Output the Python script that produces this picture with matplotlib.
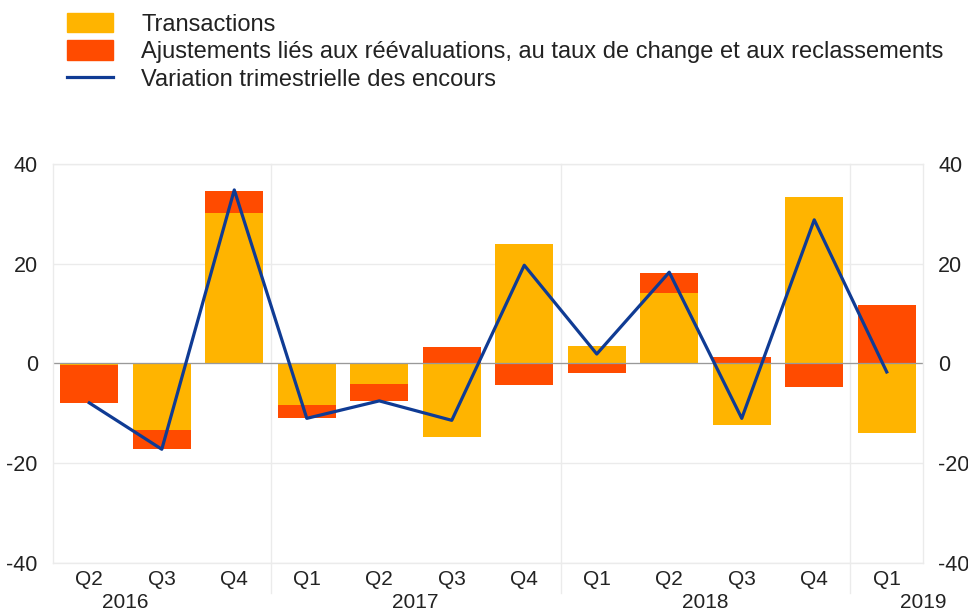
import matplotlib.pyplot as plt
from matplotlib.patches import Patch
from matplotlib.lines import Line2D

plt.rcParams['font.family'] = ['Liberation Sans', 'DejaVu Sans']
plt.rcParams['axes.unicode_minus'] = False
plt.rcParams['text.color'] = '#222222'
plt.rcParams['xtick.color'] = '#222222'
plt.rcParams['ytick.color'] = '#222222'

quarters = ['Q2', 'Q3', 'Q4', 'Q1', 'Q2', 'Q3', 'Q4', 'Q1', 'Q2', 'Q3', 'Q4', 'Q1']
years = ['2016', '2017', '2018', '2019']
year_pos = [0.5, 4.5, 8.5, 11.5]

transactions = [-0.3, -13.4, 30.2, -8.4, -4.2, -14.7, 24.0, 3.5, 14.2, -12.4, 33.3, -13.9]
adjustments = [-7.7, -3.8, 4.3, -2.6, -3.4, 3.3, -4.4, -1.9, 4.0, 1.3, -4.7, 11.8]
variation = [-7.9, -17.2, 34.8, -11.0, -7.5, -11.4, 19.7, 1.9, 18.3, -11.0, 28.8, -1.7]

yellow = '#ffb400'
red = '#ff4b00'
blue = '#0f3b94'

fig = plt.figure(figsize=(9.68, 6.11), dpi=100)
ax = fig.add_axes([0.0548, 0.0786, 0.8987, 0.653])

x = list(range(len(quarters)))
# adjustments stack on top of transactions when same sign, else start from zero
adj_bottom = [t if t * a > 0 else 0 for t, a in zip(transactions, adjustments)]

ax.bar(x, transactions, width=0.8, color=yellow, zorder=2)
ax.bar(x, adjustments, width=0.8, bottom=adj_bottom, color=red, zorder=2)
ax.plot(x, variation, color=blue, lw=2.3, zorder=3)

ax.axhline(0, color='#999999', lw=0.9, zorder=2.5)

ax.set_xlim(-0.5, 11.5)
ax.set_ylim(-40, 40)
ax.set_yticks([-40, -20, 0, 20, 40])
ax.yaxis.grid(True, color='#ebebeb', lw=1)
ax.set_axisbelow(True)

for s in ax.spines.values():
    s.set_color('#ebebeb')
    s.set_linewidth(1)

ax.tick_params(axis='y', length=0, labelsize=15.5, pad=11, labelright=True, right=False)
ax.tick_params(axis='x', length=0, labelsize=15, pad=5)
ax.set_xticks(x)
ax.set_xticklabels(quarters)

# year separators, extending down through the quarter labels
for b in [2.5, 6.5, 10.5]:
    ax.plot([b, b], [1, -0.075], color='#ebebeb', lw=1,
            transform=ax.get_xaxis_transform(), clip_on=False, zorder=1)

for yr, p in zip(years, year_pos):
    ax.text(p, -0.098, yr, transform=ax.get_xaxis_transform(),
            ha='center', va='center', fontsize=15, clip_on=False)

handles = [Patch(color=yellow), Patch(color=red), Line2D([], [], color=blue, lw=2.3)]
labels = ['Transactions',
          'Ajustements liés aux réévaluations, au taux de change et aux reclassements',
          'Variation trimestrielle des encours']
fig.legend(handles, labels, loc='upper left', bbox_to_anchor=(0.069, 0.979),
           frameon=False, fontsize=17, handlelength=1.95, handleheight=0.9,
           handletextpad=1.2, labelspacing=0.2, borderpad=0, borderaxespad=0)

fig.savefig('out.png', dpi=100)
